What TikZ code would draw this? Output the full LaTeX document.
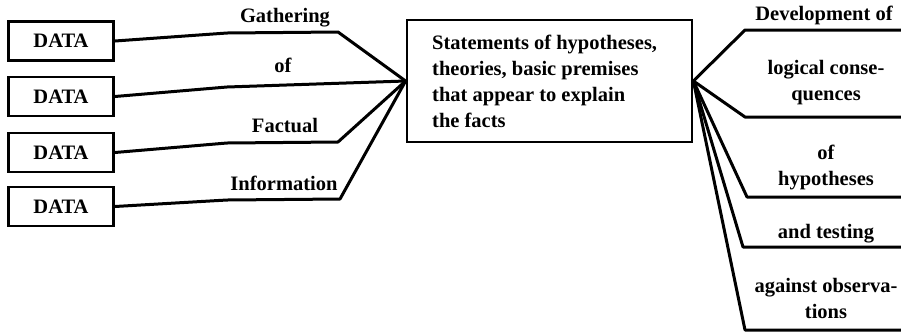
\documentclass[tikz,border=0pt]{standalone}
\usepackage{fontspec}
\setmainfont{Liberation Serif}
\begin{document}
\begin{tikzpicture}[x=1pt,y=-1pt,
  txt/.style={font=\bfseries\fontsize{20.5}{26}\selectfont, inner sep=0pt},
  databox/.style={draw, line width=2.8pt, minimum width=105pt, minimum height=39pt, inner sep=0pt, txt},
  hypbox/.style={draw, line width=2.8pt, minimum width=285pt, minimum height=122pt, inner sep=0pt},
  conn/.style={line width=3pt, line join=round}]
\useasboundingbox (0,0) rectangle (901,333);
% DATA boxes
\node[databox] (d1) at (61,41) {DATA};
\node[databox] (d2) at (61,96.5) {DATA};
\node[databox] (d3) at (61,152.5) {DATA};
\node[databox] (d4) at (61,206.5) {DATA};
% central box
\node[hypbox] (hyp) at (549.5,81) {};
\node[txt, align=left, anchor=base west] (hyptxt) at (432,127)
  {Statements of hypotheses,\\theories, basic premises\\that appear to explain\\the facts};
% right free ends
\coordinate (r1) at (901,30);
\coordinate (r2) at (901,117);
\coordinate (r3) at (901,197);
\coordinate (r4) at (901,247);
\coordinate (r5) at (901,330);
% left connectors
\draw[conn] (d1.east) -- (227,33) -- (338,32) -- (hyp.west);
\draw[conn] (d2.east) -- (227,87) -- (hyp.west);
\draw[conn] (d3.east) -- (227,143) -- (338,142) -- (hyp.west);
\draw[conn] (d4.east) -- (227,200) -- (340,199) -- (hyp.west);
% right connectors
\draw[conn] (hyp.east) -- (745,30) -- (r1);
\draw[conn] (hyp.east) -- (745,117) -- (r2);
\draw[conn] (hyp.east) -- (747,197) -- (r3);
\draw[conn] (hyp.east) -- (743,247) -- (r4);
\draw[conn] (hyp.east) -- (745,330) -- (r5);
% left labels
\node[txt, anchor=base] (l1) at (285,22) {Gathering};
\node[txt, anchor=base] (l2) at (283,72) {of};
\node[txt, anchor=base] (l3) at (285,132) {Factual};
\node[txt, anchor=base] (l4) at (284,190) {Information};
% right labels
\node[txt, anchor=base] (m1) at (824,20) {Development of};
\node[txt, align=center, anchor=base] (m2) at (826,100) {logical conse-\\quences};
\node[txt, align=center, anchor=base] (m3) at (826,185) {of\\hypotheses};
\node[txt, anchor=base] (m4) at (826,238) {and testing};
\node[txt, align=center, anchor=base] (m5) at (826,318) {against observa-\\tions};
\end{tikzpicture}
\end{document}
